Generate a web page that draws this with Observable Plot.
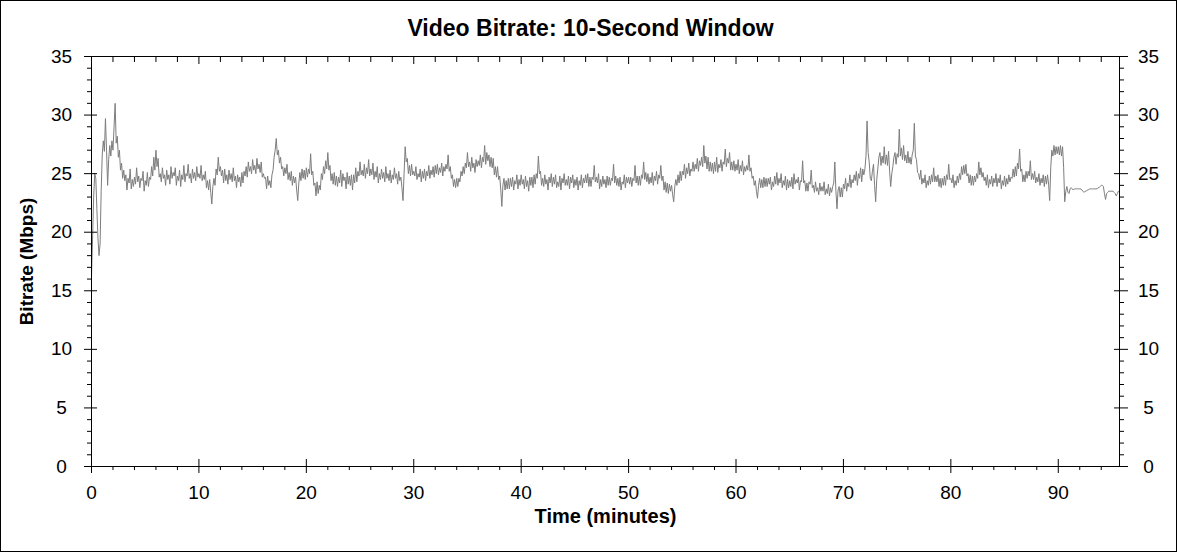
<!DOCTYPE html>
<html>
<head>
<meta charset="utf-8">
<script src="https://cdn.jsdelivr.net/npm/d3@7"></script>
<script src="https://cdn.jsdelivr.net/npm/@observablehq/plot@0.6"></script>
<style>
html, body { margin: 0; padding: 0; background: #fff; }
#wrap { position: relative; width: 1178px; height: 552px; overflow: hidden; background: #fff; }
#border { position: absolute; left: 0; top: 0; width: 1177px; height: 552px; box-sizing: border-box; border: 1px solid #000; pointer-events: none; }
</style>
</head>
<body>
<div id="wrap"><div id="chart"></div><div id="border"></div></div>
<script>
// ---- Data: video bitrate (Mbps), 10-second window, one sample every 0.1 minute ----
// each row below = one minute (10 samples)
const sampleStep = 0.1;
const seg00 = [
  16.2, 19.5, 23.0, 25.0, 24.6, 22.0, 19.5, 18.0, 19.0, 23.5,
  26.6, 27.8, 26.9, 29.7, 27.0, 24.0, 26.2, 27.4, 26.5, 27.8,
  27.0, 29.0, 31.0, 27.6, 28.2, 26.4, 27.0, 25.3, 25.9, 24.6,
  25.3, 24.4, 24.9, 23.6, 24.6, 24.2, 25.4, 23.7, 24.5, 23.9,
  24.7, 24.1, 25.5, 24.3, 24.8, 23.8, 24.6, 24.4, 25.2, 23.5,
  24.4, 24.0, 25.1, 23.9, 24.7, 24.5, 25.6, 24.8, 26.4, 25.3,
  27.0, 25.6, 26.3, 24.7, 25.0, 24.3, 25.5, 24.6, 24.9, 24.0,
  25.3, 24.5, 24.9, 24.1, 25.6, 24.6, 25.1, 24.8, 25.5, 24.0,
  24.8, 24.4, 25.3, 23.9, 24.9, 24.5, 25.7, 24.3, 25.0, 24.8,
  25.8, 24.6, 25.0, 24.2, 25.4, 24.6, 25.1, 24.4, 25.6, 24.7];
const seg10 = [
  25.0, 24.6, 25.7, 24.4, 24.9, 24.5, 25.2, 23.8, 24.4, 23.6,
  24.5, 23.4, 22.4, 23.9, 24.6, 24.0, 25.4, 24.9, 26.4, 25.2,
  25.6, 24.8, 25.3, 24.2, 25.4, 24.4, 24.9, 24.1, 25.3, 24.5,
  25.0, 24.3, 25.5, 24.4, 24.8, 23.8, 24.9, 24.3, 24.7, 23.9,
  25.1, 24.2, 25.2, 24.8, 25.6, 24.7, 26.0, 25.2, 25.6, 25.0,
  26.2, 25.3, 25.7, 25.0, 26.3, 25.4, 25.8, 25.1, 26.0, 24.7,
  25.0, 24.6, 24.7, 23.7, 24.8, 24.0, 24.4, 23.8, 24.9, 25.3,
  26.4, 27.0, 28.0, 26.6, 27.0, 25.9, 26.4, 25.4, 25.6, 24.8,
  25.5, 25.0, 25.8, 24.5, 25.1, 24.4, 25.2, 24.0, 24.8, 24.2,
  24.7, 23.6, 22.7, 24.2, 25.1, 24.4, 25.4, 24.6, 25.3, 24.5];
const seg20 = [
  25.5, 24.7, 25.4, 25.0, 26.7, 24.9, 25.2, 24.0, 24.2, 23.1,
  24.3, 23.3, 24.0, 23.6, 25.0, 24.5, 25.6, 25.0, 26.1, 25.4,
  26.8, 25.3, 25.7, 24.4, 25.0, 24.1, 25.1, 24.0, 24.8, 23.9,
  24.7, 24.2, 25.3, 23.9, 25.0, 24.4, 24.7, 23.7, 25.1, 24.1,
  24.8, 24.0, 24.9, 23.6, 24.9, 24.2, 25.5, 24.3, 25.2, 24.8,
  26.0, 24.9, 25.3, 24.8, 25.8, 24.6, 25.5, 25.0, 26.2, 24.8,
  25.4, 24.9, 25.9, 24.5, 25.2, 24.7, 25.6, 24.2, 25.0, 24.5,
  25.4, 24.6, 25.1, 24.3, 25.6, 24.6, 25.0, 24.4, 25.3, 24.2,
  24.9, 24.5, 25.5, 24.6, 25.0, 24.1, 25.2, 24.4, 24.7, 23.8,
  22.7, 25.0, 27.3, 26.0, 26.3, 25.0, 25.7, 24.8, 25.8, 24.9];
const seg30 = [
  25.2, 24.8, 25.6, 24.5, 25.0, 24.7, 25.4, 24.3, 25.2, 24.6,
  25.4, 24.4, 25.2, 24.8, 25.7, 24.6, 25.3, 24.9, 25.6, 24.7,
  25.7, 25.0, 25.8, 24.9, 25.5, 25.1, 25.9, 24.8, 25.6, 25.2,
  25.8, 25.4, 26.6, 25.2, 25.6, 24.6, 24.9, 23.9, 24.5, 23.8,
  24.6, 23.9, 24.6, 24.3, 25.2, 24.8, 25.6, 25.0, 25.9, 25.5,
  26.8, 25.6, 26.0, 25.2, 26.4, 25.5, 25.9, 25.1, 26.2, 25.6,
  26.1, 25.7, 26.6, 25.5, 26.4, 26.0, 27.4, 25.8, 26.8, 26.1,
  26.6, 25.6, 26.4, 25.5, 26.3, 24.9, 25.6, 24.7, 25.6, 24.5,
  24.8, 23.6, 22.2, 24.0, 24.6, 23.6, 24.4, 23.7, 24.6, 23.7,
  24.6, 23.9, 24.7, 23.6, 24.4, 24.1, 24.9, 23.7, 24.5, 24.0];
const seg40 = [
  24.9, 24.1, 24.5, 23.7, 24.8, 23.9, 24.4, 23.5, 24.7, 24.0,
  24.7, 23.8, 24.9, 24.1, 25.0, 24.6, 26.5, 25.0, 25.2, 24.0,
  24.6, 23.9, 24.9, 24.1, 24.5, 23.6, 24.7, 24.2, 25.0, 23.9,
  24.7, 24.1, 24.9, 23.8, 24.3, 23.9, 24.8, 23.6, 24.6, 24.2,
  25.0, 24.0, 24.5, 24.0, 24.8, 23.7, 24.7, 24.2, 24.9, 23.8,
  24.5, 24.0, 24.7, 23.6, 24.4, 24.0, 24.9, 23.8, 24.6, 24.2,
  24.9, 24.2, 25.0, 23.9, 24.7, 23.9, 24.7, 24.5, 25.7, 24.3,
  24.7, 24.2, 25.0, 23.7, 24.5, 23.9, 24.8, 24.1, 24.5, 23.8,
  24.8, 24.0, 24.7, 24.0, 24.6, 24.4, 25.8, 24.2, 24.8, 24.0,
  24.6, 23.9, 24.7, 23.6, 24.3, 24.1, 24.9, 23.8, 24.7, 24.2];
const seg50 = [
  24.7, 24.1, 24.7, 23.9, 24.6, 24.4, 25.7, 24.2, 24.8, 24.0,
  24.8, 24.0, 24.9, 24.6, 26.0, 24.5, 25.1, 24.3, 25.0, 24.1,
  24.7, 24.2, 25.1, 24.0, 24.8, 24.4, 25.2, 24.1, 24.9, 24.6,
  25.7, 24.4, 24.8, 23.6, 24.3, 23.4, 24.2, 23.3, 24.1, 23.5,
  24.0, 23.2, 22.6, 23.9, 24.5, 24.0, 24.9, 24.2, 25.2, 24.4,
  25.2, 24.9, 25.8, 24.6, 25.5, 25.0, 25.9, 24.8, 25.4, 25.2,
  26.0, 25.2, 25.8, 25.4, 26.3, 25.2, 26.1, 25.7, 26.4, 25.6,
  27.4, 25.9, 26.5, 25.4, 26.4, 25.2, 26.0, 25.2, 25.9, 25.0,
  26.0, 25.2, 26.4, 25.1, 25.8, 25.5, 26.2, 25.2, 26.0, 25.8,
  27.1, 25.6, 26.3, 25.9, 26.8, 25.3, 26.0, 25.3, 26.1, 25.2];
const seg60 = [
  25.8, 25.3, 26.2, 25.0, 25.7, 25.2, 26.1, 24.9, 25.6, 25.2,
  25.7, 25.3, 26.6, 25.2, 25.5, 24.6, 24.8, 24.0, 24.4, 23.5,
  22.9, 24.0, 24.6, 23.8, 24.5, 23.8, 24.7, 23.9, 24.6, 23.9,
  24.6, 24.1, 24.7, 23.6, 24.3, 23.9, 24.8, 24.1, 25.1, 24.0,
  24.6, 24.2, 25.0, 23.8, 24.4, 24.0, 24.8, 23.6, 24.5, 23.8,
  24.4, 23.9, 24.7, 23.7, 25.0, 24.1, 24.5, 24.2, 24.7, 23.6,
  24.4, 24.3, 26.1, 24.2, 24.4, 23.5, 24.2, 23.5, 24.3, 24.1,
  25.3, 23.8, 24.0, 23.4, 24.3, 23.5, 23.8, 23.2, 24.2, 23.5,
  23.9, 23.5, 24.3, 23.2, 23.7, 23.3, 24.1, 23.1, 23.8, 23.4,
  23.9, 24.2, 26.0, 23.5, 22.0, 23.6, 23.9, 23.0, 23.8, 23.0];
const seg70 = [
  24.1, 23.7, 24.6, 23.5, 24.2, 23.9, 24.9, 23.8, 24.5, 24.2,
  24.9, 24.4, 25.2, 24.0, 25.0, 24.6, 25.5, 24.3, 25.4, 24.9,
  25.4, 26.5, 29.5, 26.8, 26.0, 24.6, 24.4, 25.2, 25.8, 24.0,
  22.6, 24.5, 25.4, 26.4, 26.8, 25.7, 26.5, 25.9, 27.3, 25.8,
  26.6, 25.7, 26.9, 25.2, 23.9, 25.0, 25.6, 26.4, 26.8, 25.8,
  26.7, 26.4, 28.8, 26.5, 27.2, 26.2, 27.4, 26.1, 26.6, 25.9,
  26.9, 25.9, 26.4, 25.8, 26.6, 27.0, 29.3, 26.5, 26.2, 25.1,
  25.0, 24.5, 25.3, 24.1, 24.6, 24.2, 24.9, 23.8, 24.4, 24.0,
  24.8, 24.1, 24.9, 24.3, 25.5, 24.3, 24.8, 24.3, 24.9, 23.9,
  24.6, 23.8, 24.6, 24.0, 24.8, 24.0, 24.9, 24.5, 25.8, 24.5];
const seg80 = [
  24.6, 24.2, 24.9, 23.8, 24.4, 24.0, 24.8, 24.2, 25.0, 24.5,
  25.6, 24.9, 25.7, 25.0, 25.8, 24.8, 25.0, 24.2, 24.9, 24.0,
  24.8, 24.0, 24.8, 24.3, 25.0, 24.6, 26.0, 24.9, 25.5, 24.7,
  25.1, 24.4, 24.7, 24.0, 24.9, 23.8, 24.5, 24.1, 24.8, 23.9,
  24.6, 24.2, 25.0, 23.9, 24.6, 24.2, 24.9, 23.7, 24.4, 24.0,
  24.8, 23.9, 24.6, 24.1, 24.9, 24.3, 24.7, 24.6, 25.4, 24.7,
  25.6, 24.8, 25.9, 25.4, 27.1, 25.2, 25.4, 24.3, 24.9, 24.3,
  25.2, 24.6, 25.2, 24.8, 26.1, 24.5, 25.0, 24.5, 25.2, 24.2,
  24.7, 24.3, 25.0, 24.0, 24.6, 24.2, 24.9, 23.9, 24.8, 24.1,
  24.9, 24.1, 22.7, 25.5, 27.0, 26.5, 27.4, 26.6, 27.3, 26.7];
const seg90 = [
  27.3, 26.6, 27.4, 26.5, 27.3, 25.5, 22.6, 23.5, 23.9, 23.4,
  23.3, 23.7, 23.8, 23.7, 23.6, 23.7, 23.7, 23.7, 23.7, 23.7,
  23.7, 23.7, 23.6, 23.5, 23.4, 23.5, 23.5, 23.6, 23.6, 23.7,
  23.7, 23.7, 23.7, 23.7, 23.7, 23.7, 23.7, 23.8, 23.8, 23.9,
  24.0, 24.0, 23.9, 23.3, 22.8, 23.3, 23.4, 23.5, 23.5, 23.5,
  23.5, 23.5, 23.4, 23.3, 23.1, 23.3, 23.5];

// ---- Axes / ticks / text ----
const xMajorTicks = [0, 10, 20, 30, 40, 50, 60, 70, 80, 90];
const xMinorTicks = [2, 4, 6, 8, 12, 14, 16, 18, 22, 24, 26, 28, 32, 34, 36, 38,
  42, 44, 46, 48, 52, 54, 56, 58, 62, 64, 66, 68, 72, 74, 76, 78, 82, 84, 86, 88, 92, 94];
const yMajorTicks = [0, 5, 10, 15, 20, 25, 30, 35];
const yMinorTicks = [1, 2, 3, 4, 6, 7, 8, 9, 11, 12, 13, 14, 16, 17, 18, 19,
  21, 22, 23, 24, 26, 27, 28, 29, 31, 32, 33, 34];
const xDomain = [0, 95.7];
const yDomain = [0, 35];
const titleText = "Video Bitrate: 10-Second Window";
const xLabelText = "Time (minutes)";
const yLabelText = "Bitrate (Mbps)";

const bitrate = [].concat(seg00, seg10, seg20, seg30, seg40, seg50, seg60, seg70, seg80, seg90);
const series = bitrate.map((v, i) => ({t: i * sampleStep, v}));

const font = "'Liberation Sans', Arial, Helvetica, sans-serif";
const chart = Plot.plot({
  width: 1178,
  height: 552,
  marginLeft: 91,
  marginRight: 59,
  marginTop: 56,
  marginBottom: 86,
  style: {fontFamily: font, background: "transparent", color: "#000", overflow: "visible"},
  x: {domain: xDomain},
  y: {domain: yDomain},
  marks: [
    Plot.line(series, {x: "t", y: "v", stroke: "#7d7d7d", strokeWidth: 1}),
    Plot.frame({stroke: "#000"}),
    // bottom axis
    Plot.axisX(xMajorTicks, {anchor: "bottom", tickSize: 7, tickPadding: 12, fontSize: 19, label: null}),
    Plot.axisX(xMajorTicks, {anchor: "bottom", tickSize: -7, text: null, label: null}),
    Plot.axisX(xMinorTicks, {anchor: "bottom", tickSize: 4, text: null, label: null}),
    // top axis (inward ticks)
    Plot.axisX(xMajorTicks, {anchor: "top", tickSize: -7, text: null, label: null}),
    Plot.axisX(xMinorTicks, {anchor: "top", tickSize: -5, text: null, label: null}),
    // left axis
    Plot.axisY(yMajorTicks, {anchor: "left", tickSize: 7, tickPadding: 23, textAnchor: "middle", fontSize: 19, label: null}),
    Plot.axisY(yMajorTicks, {anchor: "left", tickSize: -6, text: null, label: null}),
    Plot.axisY(yMinorTicks, {anchor: "left", tickSize: 4, text: null, label: null}),
    // right axis
    Plot.axisY(yMajorTicks, {anchor: "right", tickSize: 8, tickPadding: 21, textAnchor: "middle", fontSize: 19, label: null}),
    Plot.axisY(yMajorTicks, {anchor: "right", tickSize: -6, text: null, label: null}),
    Plot.axisY(yMinorTicks, {anchor: "right", tickSize: 4, text: null, label: null}),
    // titles
    Plot.text([titleText], {text: d => d, frameAnchor: "top", lineAnchor: "middle", textAnchor: "middle", dx: -15, dy: -28, fontSize: 23, fontWeight: "bold", fill: "#000"}),
    Plot.text([xLabelText], {text: d => d, frameAnchor: "bottom", dy: 56, fontSize: 20, fontWeight: "bold", fill: "#000"}),
    Plot.text([yLabelText], {text: d => d, frameAnchor: "left", lineAnchor: "middle", textAnchor: "middle", dx: -65, rotate: -90, fontSize: 19, fontWeight: "bold", fill: "#000"})
  ]
});
document.getElementById("chart").appendChild(chart);
</script>
</body>
</html>
